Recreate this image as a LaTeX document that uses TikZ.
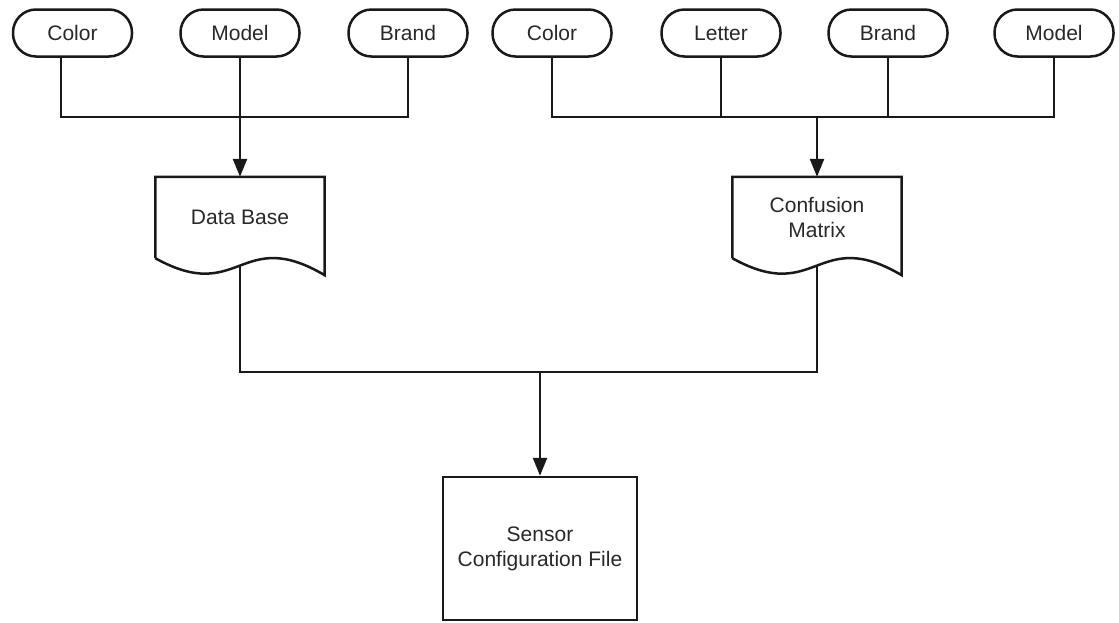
\documentclass[tikz,border=0pt]{standalone}
\usepackage{fontspec}
\setmainfont{Liberation Sans}
\usetikzlibrary{arrows.meta,calc}
\definecolor{ink}{RGB}{25,25,25}
\definecolor{txt}{RGB}{40,40,40}
\tikzset{
  every node/.style={font=\fontsize{21}{25}\selectfont, text=txt, align=center},
  pill/.style={draw=ink, line width=2.5pt, rounded corners=23pt, fill=white,
               minimum width=119pt, minimum height=47pt, inner sep=0pt},
  docarea/.style={minimum width=169pt, minimum height=81pt, inner sep=0pt},
  docline/.style={draw=ink, line width=2.5pt, line join=miter},
  filebox/.style={draw=ink, line width=2.5pt, minimum width=194pt, minimum height=143pt, inner sep=0pt},
  wire/.style={draw=ink, line width=2.5pt},
  flow/.style={wire, -{Triangle[length=18pt,width=14pt]}},
}
% document symbol with a wavy lower edge, drawn around a named node
\newcommand{\docoutline}[1]{%
  \path[docline] (#1.south west) -- (#1.north west) -- (#1.north east)
    -- ($(#1.south east)+(0,17)$)
    .. controls ($(#1.south)+(0,-33)$) and ($(#1.south)+(0,47)$) .. (#1.south west);
}
\begin{document}
\begin{tikzpicture}[x=1pt, y=-1pt]
  \useasboundingbox (0,0) rectangle (1119,622);

  % inputs of the data base
  \node[pill] (colA)   at (72.5,33) {Color};
  \node[pill] (modelA) at (240,33)  {Model};
  \node[pill] (brandA) at (408,33)  {Brand};

  % inputs of the confusion matrix
  \node[pill] (colB)    at (552,33)  {Color};
  \node[pill] (letterB) at (721,33)  {Letter};
  \node[pill] (brandB)  at (888,33)  {Brand};
  \node[pill] (modelB)  at (1054,33) {Model};

  % documents
  \node[docarea] (db) at (240,217.5) {Data Base};
  \node[docarea] (cm) at (817,217.5) {Confusion\\Matrix};
  \docoutline{db}
  \docoutline{cm}
  \coordinate (dbout) at ($(db.south)+(0,7)$);
  \coordinate (cmout) at ($(cm.south)+(0,7)$);

  % output file
  \node[filebox] (cfg) at (540,548.5) {Sensor\\Configuration File};

  % junction points of the buses
  \coordinate (busA) at (240,117);
  \coordinate (busB) at (817,117);
  \coordinate (busC) at (540,372);

  % left bus
  \draw[wire] ([xshift=-11.5pt]colA.south) |- (busA);
  \draw[wire] (brandA.south) |- (busA);
  \draw[flow] (modelA.south) -- (db.north);

  % right bus
  \draw[wire] (colB.south) |- (busB);
  \draw[wire] (modelB.south) |- (busB);
  \draw[wire] (letterB.south) -- (letterB.south |- busB);
  \draw[wire] (brandB.south) -- (brandB.south |- busB);
  \draw[flow] (busB) -- (cm.north);

  % merge into the configuration file
  \draw[wire] (dbout) |- (busC);
  \draw[wire] (cmout) |- (busC);
  \draw[flow] (busC) -- (cfg.north);
\end{tikzpicture}
\end{document}
